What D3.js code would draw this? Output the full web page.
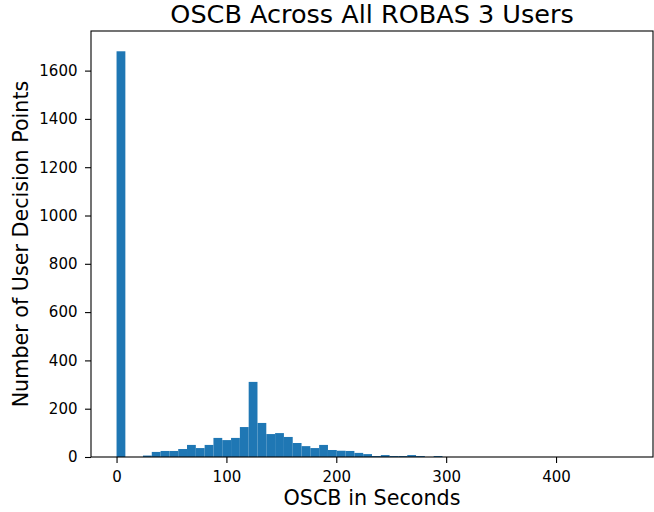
<!DOCTYPE html>
<html><head><meta charset="utf-8">
<script src="https://cdn.jsdelivr.net/npm/d3@7"></script>
<style>body{margin:0;background:#fff}svg{display:block}text{font-family:"DejaVu Sans",sans-serif}</style>
</head><body><svg id="c" width="654" height="512"></svg>
<script>
const binLow = 0, binHigh = 465;
const counts = [1680,0,0,6,21,25,25,33,50,37,50,79,70,79,124,311,141,95,99,83,58,45,37,50,29,26,25,17,12,4,8,4,4,8,4,0,4,0,0,0,0,0,0,0,0,0,0,0,0,0,0,0,0,0,0,0,0,0];
const xTicks = [0,100,200,300,400];
const yTicks = [0,200,400,600,800,1000,1200,1400,1600];
const title = "OSCB Across All ROBAS 3 Users";
const xLabel = "OSCB in Seconds";
const yLabel = "Number of User Decision Points";

const L=91,R=653,T=31,B=457;
const svg=d3.select("#c");
const span=binHigh-binLow;
const x=d3.scaleLinear().domain([binLow-0.05*span,binHigh+0.05*span]).range([L,R]);
const ymax=d3.max(counts)*1.05;
const y=d3.scaleLinear().domain([0,ymax]).range([B,T]);
const bw=span/counts.length;
const bins=counts.map((c,i)=>({x0:binLow+i*bw,x1:binLow+(i+1)*bw,c}));
svg.append("g").selectAll("rect").data(bins.filter(d=>d.c>0)).join("rect")
 .attr("x",d=>x(d.x0)).attr("width",d=>x(d.x1)-x(d.x0))
 .attr("y",d=>y(d.c)).attr("height",d=>B-y(d.c)).attr("fill","#1f77b4");
const xa=svg.append("g").attr("transform",`translate(0,${B})`).call(d3.axisBottom(x).tickValues(xTicks).tickSize(6).tickPadding(8).tickFormat(d3.format("d")));
const ya=svg.append("g").attr("transform",`translate(${L},0)`).call(d3.axisLeft(y).tickValues(yTicks).tickSize(6).tickPadding(7.5).tickFormat(d3.format("d")));
[xa,ya].forEach(a=>{a.select(".domain").remove();a.selectAll("text").attr("font-size",15).attr("font-family","DejaVu Sans").attr("fill","#000");a.selectAll("line").attr("stroke","#000").attr("stroke-width",1.1);});
svg.append("rect").attr("x",L).attr("y",T).attr("width",R-L).attr("height",B-T).attr("fill","none").attr("stroke","#000").attr("stroke-width",1.1);
svg.append("text").attr("x",(L+R)/2).attr("y",23).attr("text-anchor","middle").attr("font-size",25.5).text(title);
svg.append("text").attr("x",(L+R)/2).attr("y",505).attr("text-anchor","middle").attr("font-size",20.7).text(xLabel);
svg.append("text").attr("transform",`translate(28,${(T+B)/2}) rotate(-90)`).attr("text-anchor","middle").attr("font-size",20.7).text(yLabel);
</script></body></html>
